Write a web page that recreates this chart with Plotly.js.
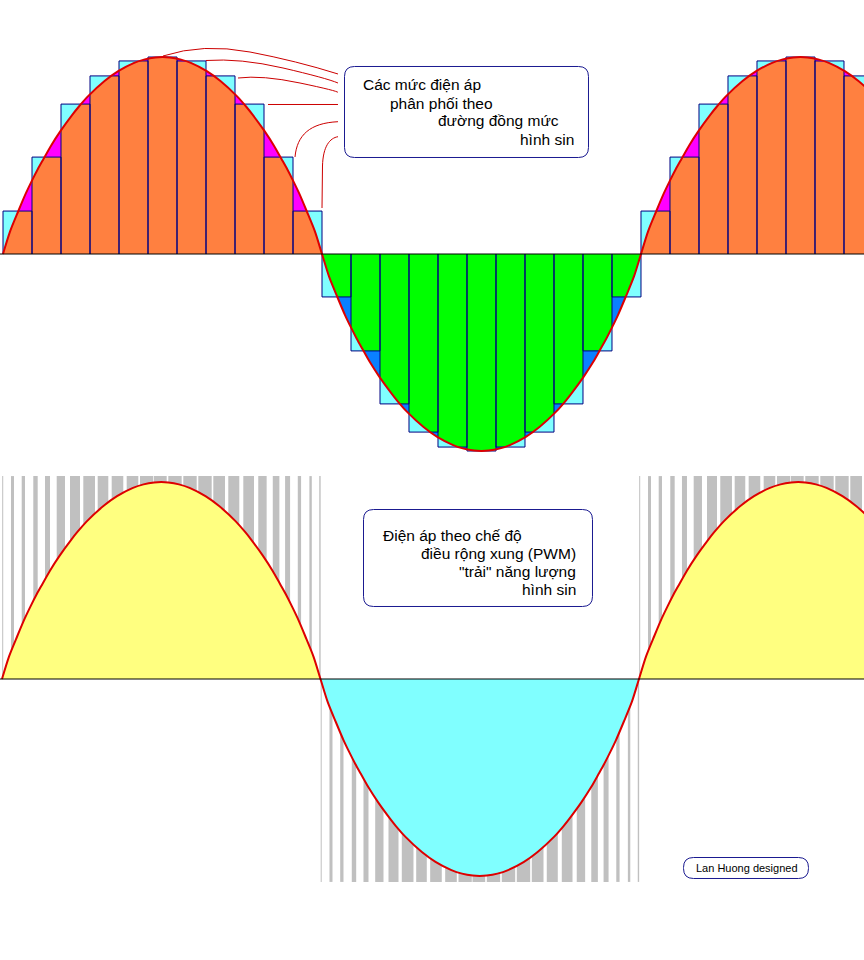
<!DOCTYPE html>
<html>
<head>
<meta charset="utf-8">
<script src="https://cdn.plot.ly/plotly-3.0.1.min.js"></script>
<style>html,body{margin:0;padding:0;background:#fff;}#chart{width:864px;height:960px;}</style>
</head>
<body>
<div id="chart"></div>
<script>
// ---------- data ----------
// sine-like profile of one half-wave (phase in degrees, value relative to peak)
const profileDeg = [0, 4, 8.6, 13, 16.2, 19.6, 22.7, 27.1, 32.5, 39.4, 42.5, 47.9, 57.3, 65, 74, 80, 86, 90,
                    94, 100, 106, 115, 122.7, 132.1, 137.5, 140.6, 147.5, 152.9, 157.3, 160.4, 163.8, 167, 171.4, 176, 180];
const profileVal = [0, 0.115, 0.217, 0.31, 0.37, 0.43, 0.48, 0.55, 0.625, 0.71, 0.745, 0.80, 0.878, 0.928, 0.97, 0.988, 0.998, 1,
                    0.998, 0.988, 0.97, 0.928, 0.878, 0.80, 0.745, 0.71, 0.625, 0.55, 0.48, 0.43, 0.37, 0.31, 0.217, 0.115, 0];
// stepped voltage levels (11 steps per half-wave)
const stepLevels = [0.218, 0.492, 0.761, 0.904, 0.980, 1.0, 0.980, 0.904, 0.761, 0.492, 0.218];
// PWM pulses of one half-wave: centre phase and width (degrees)
const pulseCenter = [0.4, 5.93, 12.07, 18.93, 25.71, 33.26, 41.26, 49.25, 57.08, 65.27, 73.75, 81.75, 89.49,
                     97.77, 106.25, 114.73, 122.73, 131.0, 139.4, 147.2, 154.9, 161.4, 168.1, 174.4, 179.7];
const pulseWidth  = [0.57, 1.70, 1.87, 2.49, 2.83, 4.69, 5.65, 6.61, 5.99, 6.56, 6.56, 7.52, 7.18,
                     7.57, 7.57, 7.57, 6.61, 6.22, 6.05, 4.75, 3.73, 2.83, 1.87, 1.36, 0.79];
// half-waves shown: start phase and polarity
const halfStart = [0, 180, 360];
const halfSign  = [1, -1, 1];

const box1Text = ["Các mức điện áp", "phân phối theo", "đường đồng mức", "hình sin"];
const box2Text = ["Điện áp theo chế độ", "điều rộng xung (PWM)", "\"trải\" năng lượng", "hình sin"];
const signText = "Lan Huong designed";

// ---------- helpers ----------
const W = 864, H = 960;
function interp(xs, ys, x) {
  if (x <= xs[0]) return ys[0];
  for (let i = 1; i < xs.length; i++) {
    if (x <= xs[i]) { const t = (x - xs[i-1]) / (xs[i] - xs[i-1]); return ys[i-1] + t * (ys[i] - ys[i-1]); }
  }
  return ys[ys.length - 1];
}
function px(str) { // pixel path -> paper path
  return str.replace(/(-?\d+(?:\.\d+)?)[ ,]+(-?\d+(?:\.\d+)?)/g,
    (m, a, b) => (a / W).toFixed(5) + ',' + (1 - b / H).toFixed(5));
}
function roundRect(x0, y0, x1, y1, r) {
  return px(`M ${x0+r} ${y0} L ${x1-r} ${y0} Q ${x1} ${y0} ${x1} ${y0+r} L ${x1} ${y1-r} Q ${x1} ${y1} ${x1-r} ${y1} ` +
            `L ${x0+r} ${y1} Q ${x0} ${y1} ${x0} ${y1-r} L ${x0} ${y0+r} Q ${x0} ${y0} ${x0+r} ${y0} Z`);
}

const nSteps = stepLevels.length, stepW = 180 / nSteps;
const traces = [];

// ---------- top chart: stepped approximation ----------
const cyanX = [], cyanY = [], cyanW = [];
halfStart.forEach((o, k) => stepLevels.forEach((v, i) => {
  cyanX.push(o + (i + 0.5) * stepW); cyanY.push(halfSign[k] * v); cyanW.push(stepW);
}));
traces.push({type: 'bar', x: cyanX, y: cyanY, width: cyanW, xaxis: 'x', yaxis: 'y',
  marker: {color: '#80FFFF', line: {width: 0}}, hoverinfo: 'skip'});

// area under the curve (visible where the curve is above the step)
halfStart.forEach((o, k) => {
  traces.push({type: 'scatter', mode: 'lines', xaxis: 'x', yaxis: 'y',
    x: profileDeg.map(d => d + o), y: profileVal.map(v => v * halfSign[k]),
    fill: 'tozeroy', fillcolor: halfSign[k] > 0 ? '#FF00FF' : '#0A80FF', line: {width: 0}, hoverinfo: 'skip'});
});
// common area of curve and step
halfStart.forEach((o, k) => {
  const xs = [], ys = [];
  for (let i = 0; i < nSteps; i++) {
    for (let j = 0; j <= 40; j++) {
      const d = i * stepW + j * stepW / 40;
      xs.push(o + d); ys.push(halfSign[k] * Math.min(interp(profileDeg, profileVal, d), stepLevels[i]));
    }
  }
  traces.push({type: 'scatter', mode: 'lines', xaxis: 'x', yaxis: 'y', x: xs, y: ys,
    fill: 'tozeroy', fillcolor: halfSign[k] > 0 ? '#FF8040' : '#00FF00', line: {width: 0}, hoverinfo: 'skip'});
});
// step outlines
const olX = [], olY = [];
halfStart.forEach((o, k) => stepLevels.forEach((v, i) => {
  const x0 = o + i * stepW, x1 = x0 + stepW, h = halfSign[k] * v;
  olX.push(x0, x0, x1, x1, null); olY.push(0, h, h, 0, null);
}));
traces.push({type: 'scatter', mode: 'lines', xaxis: 'x', yaxis: 'y', x: olX, y: olY,
  line: {color: '#000080', width: 1}, connectgaps: false, hoverinfo: 'skip'});

function curveTrace(xa, ya) {
  const xs = [], ys = [];
  halfStart.forEach((o, k) => profileDeg.forEach((d, i) => {
    if (k > 0 && i === 0) return;
    xs.push(o + d); ys.push(halfSign[k] * profileVal[i]);
  }));
  return {type: 'scatter', mode: 'lines', xaxis: xa, yaxis: ya, x: xs, y: ys,
    line: {color: '#DD0000', width: 2, shape: 'spline', smoothing: 0.8}, hoverinfo: 'skip'};
}
traces.push(curveTrace('x', 'y'));

// ---------- bottom chart: PWM ----------
const stripeTop = 1.03;
const pX = [], pY = [], pW = [];
halfStart.forEach((o, k) => pulseCenter.forEach((c, i) => {
  pX.push(o + c); pY.push(halfSign[k] * stripeTop); pW.push(pulseWidth[i]);
}));
traces.push({type: 'bar', x: pX, y: pY, width: pW, xaxis: 'x2', yaxis: 'y2',
  marker: {color: '#C0C0C0', line: {width: 0}}, hoverinfo: 'skip'});
halfStart.forEach((o, k) => {
  traces.push({type: 'scatter', mode: 'lines', xaxis: 'x2', yaxis: 'y2',
    x: profileDeg.map(d => d + o), y: profileVal.map(v => v * halfSign[k]),
    fill: 'tozeroy', fillcolor: halfSign[k] > 0 ? '#FFFF80' : '#80FFFF', line: {width: 0}, hoverinfo: 'skip'});
});
traces.push(curveTrace('x2', 'y2'));

// ---------- decorations ----------
const redLine = {color: '#CC0000', width: 1};
const navy = {color: '#1A1A90', width: 1};
const shapes = [
  {type: 'line', xref: 'paper', x0: 0, x1: 1, yref: 'y', y0: 0, y1: 0, line: {color: '#000000', width: 1}},
  {type: 'line', xref: 'paper', x0: 0, x1: 1, yref: 'y2', y0: 0, y1: 0, line: {color: '#000000', width: 1}},
  {type: 'path', xref: 'paper', yref: 'paper', path: px('M 163 56 Q 203 43 250 52 T 338 74'), line: redLine},
  {type: 'path', xref: 'paper', yref: 'paper', path: px('M 206 60.5 Q 240 58 283 68 T 338 83'), line: redLine},
  {type: 'path', xref: 'paper', yref: 'paper', path: px('M 238 78 Q 262 75 300 83 T 338 92.5'), line: redLine},
  {type: 'path', xref: 'paper', yref: 'paper', path: px('M 268 104.5 L 338 104.5'), line: redLine},
  {type: 'path', xref: 'paper', yref: 'paper', path: px('M 295 157 C 297 135 310 123 338 121.7'), line: redLine},
  {type: 'path', xref: 'paper', yref: 'paper', path: px('M 322 208 L 322.5 166 C 323 146 330 138 338 136.7'), line: redLine},
  {type: 'path', xref: 'paper', yref: 'paper', path: roundRect(344.5, 66.5, 588.5, 157.5, 10), line: navy, fillcolor: '#FFFFFF'},
  {type: 'path', xref: 'paper', yref: 'paper', path: roundRect(363.5, 509.5, 592.5, 606.5, 10), line: navy, fillcolor: '#FFFFFF'},
  {type: 'path', xref: 'paper', yref: 'paper', path: roundRect(683.5, 857.5, 808.5, 878.5, 10), line: navy, fillcolor: '#FFFFFF'}
];

const font = {family: 'Liberation Sans, Arial, sans-serif', size: 15.5, color: '#000000'};
function ann(text, x, y, anchor, f) {
  return {text: text, xref: 'paper', yref: 'paper', x: x / W, y: 1 - y / H, xanchor: anchor, yanchor: 'middle',
          showarrow: false, font: f || font};
}
const annotations = [
  ann(box1Text[0], 361, 84, 'left'),
  ann(box1Text[1], 388, 103, 'left'),
  ann(box1Text[2], 436, 121, 'left'),
  ann(box1Text[3], 518, 139, 'left'),
  ann(box2Text[0], 380.5, 535, 'left'),
  ann(box2Text[1], 578, 553, 'right'),
  ann(box2Text[2], 578, 571.5, 'right'),
  ann(box2Text[3], 578, 589, 'right'),
  ann(signText, 746.5, 868, 'center', {family: 'Liberation Sans, Arial, sans-serif', size: 11, color: '#000000'})
];

const layout = {
  width: W, height: H, margin: {l: 0, r: 0, t: 0, b: 0, pad: 0},
  paper_bgcolor: '#FFFFFF', plot_bgcolor: 'rgba(0,0,0,0)', showlegend: false, barmode: 'overlay',
  xaxis:  {domain: [0, 1], range: [(0 - 3) / 1.7722, (864 - 3) / 1.7722], visible: false, fixedrange: true, anchor: 'y'},
  yaxis:  {domain: [0.515625, 1], range: [(254 - 465) / 197, 254 / 197], visible: false, fixedrange: true, anchor: 'x'},
  xaxis2: {domain: [0, 1], range: [(0 - 2) / 1.7694, (864 - 2) / 1.7694], visible: false, fixedrange: true, anchor: 'y2'},
  yaxis2: {domain: [0, 0.515625], range: [(679 - 960) / 197, (679 - 465) / 197], visible: false, fixedrange: true, anchor: 'x2'},
  shapes: shapes, annotations: annotations
};
Plotly.newPlot('chart', traces, layout, {staticPlot: true, displayModeBar: false});
</script>
</body>
</html>
